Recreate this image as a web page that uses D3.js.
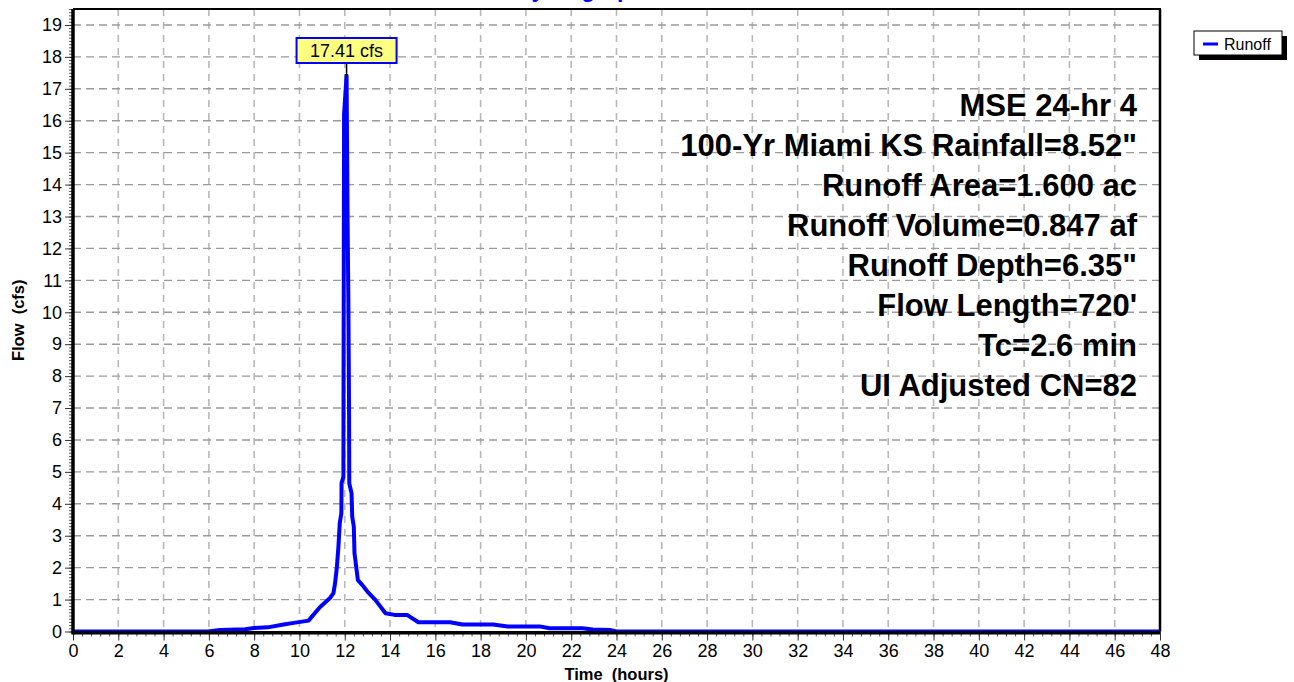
<!DOCTYPE html>
<html>
<head>
	<meta charset="utf-8">
	<script src="https://d3js.org/d3.v7.min.js"></script>
	<title>Hydrograph</title>
	<style>
		body { margin: 0; background: #fff; }
		text { font-family: Arial, "Liberation Sans", sans-serif; }
	</style>
</head>
<body>
	<div id="chart"></div>

	<script type="text/javascript">

		// hydrograph
		var timeHours = [0, 5.95, 6.5, 7.6, 8.0, 8.6, 9.3, 9.75, 10.4, 10.9, 11.35, 11.5, 11.57, 11.65, 11.72,
			11.78, 11.85, 11.86, 11.94, 11.95, 11.97, 12.08, 12.13, 12.16, 12.19, 12.2, 12.3, 12.33, 12.4,
			12.43, 12.58, 12.77, 13.0, 13.35, 13.8, 14.2, 14.75, 15.25, 16.65, 17.2, 18.55, 19.2, 20.6,
			21.05, 22.5, 22.95, 23.7, 24.0, 48];
		var flowCfs = [0, 0, 0.05, 0.07, 0.11, 0.13, 0.22, 0.27, 0.34, 0.76, 1.05, 1.2, 1.5, 2.0, 2.65,
			3.4, 3.7, 4.65, 4.85, 8.9, 16.2, 17.41, 12.5, 10.4, 7.0, 4.64, 4.33, 3.6, 3.28,
			2.45, 1.61, 1.46, 1.25, 0.99, 0.57, 0.52, 0.52, 0.29, 0.29, 0.22, 0.22, 0.16, 0.16,
			0.1, 0.1, 0.06, 0.05, 0, 0];

		var xTicks = d3.range(0, 49, 2);
		var yTicks = d3.range(0, 20, 1);
		var peakText = "17.41 cfs";
		var seriesName = "Runoff";
		var infoLines = ["MSE 24-hr 4", "100-Yr Miami KS Rainfall=8.52\"", "Runoff Area=1.600 ac",
			"Runoff Volume=0.847 af", "Runoff Depth=6.35\"", "Flow Length=720'", "Tc=2.6 min",
			"UI Adjusted CN=82"];

		var svgW = 1294, svgH = 682;
		var plotL = 73, plotR = 1160, plotT = 9, plotB = 631.5;

		var svg = d3.select("#chart").append("svg")
			.attr("width", svgW)
			.attr("height", svgH);

		var x = d3.scaleLinear().domain([0, 48]).range([plotL, plotR]);
		var y = d3.scaleLinear().domain([0, 19.5]).range([plotB, plotT]);

		// grid
		svg.selectAll(".vgrid")
			.data(xTicks.slice(1)).enter()
			.append("line")
			.attr("class", "vgrid")
			.attr("x1", function(d){ return x(d); })
			.attr("x2", function(d){ return x(d); })
			.attr("y1", plotT)
			.attr("y2", plotB)
			.attr("stroke", "#b8b8b8")
			.attr("stroke-width", 1.6)
			.attr("stroke-dasharray", "7,6");

		svg.selectAll(".hgrid")
			.data(yTicks.slice(1)).enter()
			.append("line")
			.attr("class", "hgrid")
			.attr("x1", plotL)
			.attr("x2", plotR)
			.attr("y1", function(d){ return y(d); })
			.attr("y2", function(d){ return y(d); })
			.attr("stroke", "#9a9a9a")
			.attr("stroke-width", 1.4)
			.attr("stroke-dasharray", "8,5");

		// info text
		svg.selectAll(".info")
			.data(infoLines).enter()
			.append("text")
			.attr("class", "info")
			.attr("x", 1137)
			.attr("y", function(d, i){ return 116 + i * 40; })
			.attr("text-anchor", "end")
			.attr("font-weight", "bold")
			.attr("font-size", "31px")
			.text(function(d){ return d; });

		// axes with minor ticks
		var yAxis = d3.axisLeft(y).tickValues(yTicks).tickSize(8).tickPadding(3).tickFormat(d3.format("d"));
		var yMinor = d3.axisLeft(y).tickValues(d3.range(0, 19.51, 0.1)).tickSize(4).tickFormat("");
		var xAxis = d3.axisBottom(x).tickValues(xTicks).tickSize(9).tickPadding(4).tickFormat(d3.format("d"));
		var xMinor = d3.axisBottom(x).tickValues(d3.range(0, 48.01, 0.4)).tickSize(5).tickFormat("");

		svg.append("g").attr("transform", "translate(" + plotL + ",0)").call(yMinor)
			.call(function(g){ g.select(".domain").remove(); g.selectAll("line").attr("stroke", "#555"); });
		svg.append("g").attr("transform", "translate(0," + plotB + ")").call(xMinor)
			.call(function(g){ g.select(".domain").remove(); g.selectAll("line").attr("stroke", "#555"); });

		svg.append("g").attr("transform", "translate(" + plotL + ",0)").call(yAxis)
			.call(function(g){
				g.select(".domain").remove();
				g.selectAll("line").attr("stroke", "#333");
				g.selectAll("text").attr("font-size", "18px").attr("fill", "#000");
			});
		svg.append("g").attr("transform", "translate(0," + plotB + ")").call(xAxis)
			.call(function(g){
				g.select(".domain").remove();
				g.selectAll("line").attr("stroke", "#333");
				g.selectAll("text").attr("font-size", "18px").attr("fill", "#000");
			});

		// frame
		svg.append("line").attr("x1", plotL).attr("x2", plotR + 1).attr("y1", plotT).attr("y2", plotT)
			.attr("stroke", "#000").attr("stroke-width", 2);
		svg.append("line").attr("x1", plotR).attr("x2", plotR).attr("y1", plotT).attr("y2", plotB)
			.attr("stroke", "#000").attr("stroke-width", 2.5);

		// hydrograph line
		var line = d3.line()
			.x(function(d){ return x(d[0]); })
			.y(function(d){ return y(d[1]); });

		var pts = timeHours.map(function(t, i){ return [t, flowCfs[i]]; });

		svg.append("path")
			.datum(pts)
			.attr("d", line)
			.attr("fill", "none")
			.attr("stroke", "#0000ff")
			.attr("stroke-width", 4)
			.attr("stroke-linejoin", "round");

		// axis lines drawn over the flat part of the curve
		svg.append("line").attr("x1", plotL).attr("x2", plotR).attr("y1", plotB + 1.3).attr("y2", plotB + 1.3)
			.attr("stroke", "#000").attr("stroke-width", 3.5);
		svg.append("line").attr("x1", plotL).attr("x2", plotL).attr("y1", plotT).attr("y2", plotB + 3)
			.attr("stroke", "#000").attr("stroke-width", 3.5);

		// peak label
		var peakIdx = d3.maxIndex(flowCfs);
		var px = x(timeHours[peakIdx]), py = y(flowCfs[peakIdx]);
		svg.append("line").attr("x1", px).attr("x2", px).attr("y1", 63).attr("y2", py)
			.attr("stroke", "#000").attr("stroke-width", 1.5);
		svg.append("rect")
			.attr("x", px - 50).attr("y", 38).attr("width", 100).attr("height", 25)
			.attr("fill", "#ffff80").attr("stroke", "#0000ff").attr("stroke-width", 2);
		svg.append("text")
			.attr("x", px).attr("y", 57)
			.attr("text-anchor", "middle")
			.attr("font-size", "18px")
			.text(peakText);

		// title, mostly cut off at top
		svg.append("text")
			.attr("x", 580).attr("y", -3)
			.attr("text-anchor", "middle")
			.attr("font-weight", "bold")
			.attr("font-size", "23px")
			.attr("fill", "#0000ff")
			.text("Hydrograph");

		// axis titles
		svg.append("text")
			.attr("transform", "translate(24," + ((plotT + plotB) / 2) + ") rotate(-90)")
			.attr("text-anchor", "middle")
			.attr("font-weight", "bold")
			.attr("font-size", "16.5px")
			.style("white-space", "pre")
			.text("Flow  (cfs)");
		svg.append("text")
			.attr("x", (plotL + plotR) / 2).attr("y", 680)
			.attr("text-anchor", "middle")
			.attr("font-weight", "bold")
			.attr("font-size", "16.5px")
			.style("white-space", "pre")
			.text("Time  (hours)");

		// legend
		svg.append("rect").attr("x", 1199).attr("y", 36).attr("width", 88).attr("height", 24).attr("fill", "#000");
		svg.append("rect").attr("x", 1194).attr("y", 31).attr("width", 88).attr("height", 24)
			.attr("fill", "#fff").attr("stroke", "#000").attr("stroke-width", 1);
		svg.append("line").attr("x1", 1203).attr("x2", 1218).attr("y1", 44).attr("y2", 44)
			.attr("stroke", "#0000ff").attr("stroke-width", 3);
		svg.append("text").attr("x", 1224).attr("y", 49.5).attr("font-size", "16px").text(seriesName);

	</script>
</body>
</html>
